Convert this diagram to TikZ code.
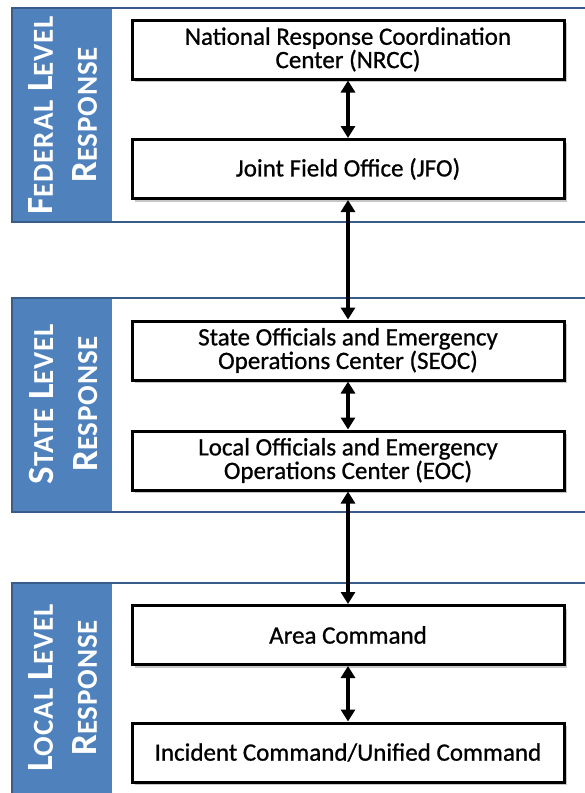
\documentclass[tikz,border=0pt]{standalone}
\usepackage{fontspec}
\setmainfont{Carlito}
\usetikzlibrary{arrows.meta,shadows}
\definecolor{panelblue}{HTML}{4F81BD}
\definecolor{frameblue}{HTML}{385D8A}
\newcommand{\bigsc}[2]{{\fontsize{37}{44}\selectfont\addfontfeature{LetterSpace=3}#1}{\fontsize{29}{44}\selectfont\addfontfeature{LetterSpace=3}#2}}
\begin{document}
\begin{tikzpicture}[x=1pt,y=-1pt,
  framebox/.style={draw=frameblue,line width=2pt},
  sidefill/.style={fill=panelblue},
  sidelabel/.style={rotate=90,text=white,align=center,font=\bfseries\fontsize{37}{44}\selectfont,inner sep=0pt},
  orgbox/.style={draw=black,fill=white,line width=3pt,minimum width=432pt,minimum height=59pt,
    align=center,font=\fontsize{25}{21}\selectfont\addfontfeature{FakeBold=0.8},inner sep=2pt,
    drop shadow={shadow xshift=3pt,shadow yshift=-3pt,fill=black,opacity=0.22}},
  link/.style={line width=4pt,{Triangle[width=14pt,length=12pt]}-{Triangle[width=14pt,length=12pt]}}
]
\useasboundingbox (0,0) rectangle (585,793);
\clip (0,0) rectangle (585,793);
\fill[white] (0,0) rectangle (585,793);

% panels
\fill[sidefill] (12,8) rectangle (112,222);
\draw[framebox] (12,8) rectangle (620,222);
\fill[sidefill] (12,298) rectangle (112,512);
\draw[framebox] (12,298) rectangle (620,512);
\fill[sidefill] (12,583) rectangle (112,820);
\draw[framebox] (12,583) rectangle (620,820);

\node[sidelabel] (fedlab) at (63,115) {\bigsc{F}{EDERAL} \bigsc{L}{EVEL}\\\bigsc{R}{ESPONSE}};
\node[sidelabel] (statelab) at (63,404) {\bigsc{S}{TATE} \bigsc{L}{EVEL}\\\bigsc{R}{ESPONSE}};
\node[sidelabel] (locallab) at (63,688) {\bigsc{L}{OCAL} \bigsc{L}{EVEL}\\\bigsc{R}{ESPONSE}};

% boxes
\node[orgbox] (nrcc) at (348,49.5) {National Response Coordination\\Center (NRCC)};
\node[orgbox] (jfo) at (348,169) {Joint Field Office (JFO)};
\node[orgbox] (seoc) at (348,350.5) {State Officials and Emergency\\Operations Center (SEOC)};
\node[orgbox] (eoc) at (348,460.5) {Local Officials and Emergency\\Operations Center (EOC)};
\node[orgbox] (area) at (348,635) {Area Command};
\node[orgbox] (ic) at (348,752.5) {Incident Command/Unified Command};

% connectors
\draw[link] (nrcc.south) -- (jfo.north);
\draw[link] (jfo.south) -- (seoc.north);
\draw[link] (seoc.south) -- (eoc.north);
\draw[link] (eoc.south) -- (area.north);
\draw[link] (area.south) -- (ic.north);
\end{tikzpicture}
\end{document}
